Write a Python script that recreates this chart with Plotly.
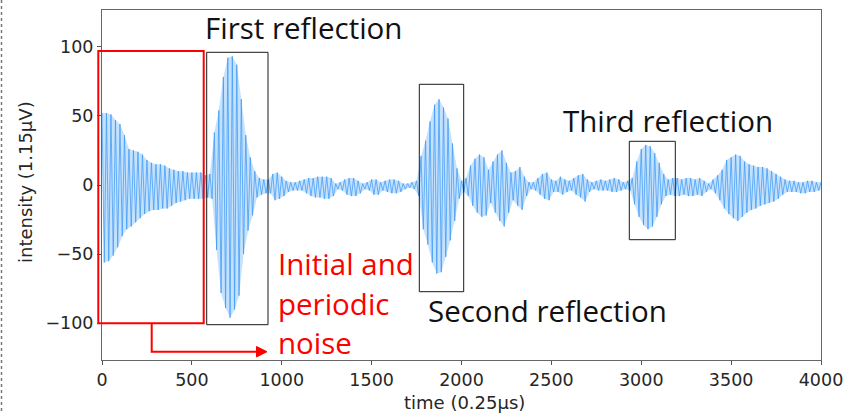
import plotly.graph_objects as go

# ---- data -----------------------------------------------------------------
# sample times (0.25 us units), one envelope reading every 25 samples
time = list(range(0, 4001, 25))

# positive peak envelope at each time
upper = [
    52, 52, 51, 47, 44, 36, 26, 25,
    24, 22, 18, 16, 15, 15, 14, 12,
    11, 10, 10, 9, 9, 9, 9, 7,
    8, 38, 54, 78, 92, 93, 87, 62,
    36, 20, 10, 5, 4, 4, 8, 9,
    6, 3, 2, 2, 3, 4, 5, 5,
    6, 6, 6, 5, 1, 2, 4, 5,
    5, 3, 1, 2, 4, 4, 2, 3,
    4, 4, 3, 1, 1, 2, 3, 21,
    32, 46, 58, 62, 56, 48, 30, 12,
    3, 5, 14, 19, 22, 20, 11, 17,
    22, 25, 16, 9, 10, 13, 6, 2,
    2, 5, 8, 9, 4, 3, 6, 4,
    3, 5, 7, 8, 4, 2, 3, 4,
    3, 4, 5, 4, 2, 3, 5, 17,
    26, 29, 28, 23, 16, 8, 4, 5,
    5, 4, 5, 5, 4, 5, 3, 1,
    4, 7, 11, 18, 20, 22, 21, 17,
    15, 14, 13, 13, 12, 10, 8, 6,
    4, 3, 3, 2, 2, 3, 3, 2,
    2,
]

# negative peak envelope (half a step later)
lower = [
    -56, -55, -51, -45, -37, -32, -30, -27,
    -24, -21, -19, -18, -18, -17, -17, -15,
    -13, -12, -11, -10, -10, -10, -10, -9,
    -10, -47, -78, -89, -96, -90, -80, -50,
    -33, -22, -9, -7, -6, -6, -11, -10,
    -8, -5, -4, -4, -4, -6, -8, -9,
    -9, -10, -10, -8, -3, -4, -7, -8,
    -8, -6, -3, -4, -7, -7, -4, -5,
    -6, -6, -5, -3, -2, -3, -8, -32,
    -43, -56, -64, -63, -52, -40, -26, -10,
    -5, -8, -15, -20, -23, -22, -13, -20,
    -26, -30, -20, -11, -15, -18, -8, -3,
    -4, -7, -10, -11, -5, -5, -7, -5,
    -4, -7, -9, -12, -5, -3, -4, -4,
    -4, -5, -5, -4, -3, -4, -14, -23,
    -29, -32, -30, -23, -14, -8, -7, -8,
    -8, -7, -8, -8, -7, -8, -5, -3,
    -6, -11, -17, -21, -24, -26, -23, -20,
    -18, -17, -15, -14, -13, -12, -10, -7,
    -5, -5, -5, -6, -6, -5, -5, -4,
    -3,
]

x_ticks = [0, 500, 1000, 1500, 2000, 2500, 3000, 3500, 4000]
y_ticks = [-100, -50, 0, 50, 100]
y_tick_labels = ["\u2212100", "\u221250", "0", "50", "100"]

# ---- build the oscillating trace from the peak readings -------------------
half = 12.5
xs, ys = [], []
for t, u, l in zip(time, upper, lower):
    xs += [t, t + half]
    ys += [u, l]

# envelope band (same readings)
band_x = time + [t + half for t in time][::-1]
band_y = upper + lower[::-1]

fig = go.Figure()
fig.add_trace(go.Scatter(
    x=band_x, y=band_y, mode="lines", fill="toself",
    fillcolor="rgba(125,188,250,0.45)", line=dict(width=0),
    hoverinfo="skip", showlegend=False,
))
fig.add_trace(go.Scatter(
    x=xs, y=ys, mode="lines",
    line=dict(color="rgba(60,152,245,0.72)", width=1),
    hoverinfo="skip", showlegend=False,
))

# ---- layout ---------------------------------------------------------------
W, H = 847, 414
L, R, T, B = 102, 26, 10, 54
pw, ph = W - L - R, H - T - B


def px(x):
    return (x - L) / pw


def py(y):
    return (H - B - y) / ph


tick_font = dict(family="DejaVu Sans", size=17.5, color="#262626")
title_font = dict(family="DejaVu Sans", size=18, color="#262626")

fig.update_layout(
    width=W, height=H, autosize=False,
    margin=dict(l=L, r=R, t=T, b=B, pad=0),
    paper_bgcolor="white", plot_bgcolor="white",
    xaxis=dict(
        range=[0, 4000], tickvals=x_ticks, ticks="outside", ticklen=4,
        tickcolor="#555", showline=True, linecolor="#666", linewidth=1,
        mirror=True, showgrid=False, zeroline=False, tickfont=tick_font,
        automargin=False,
    ),
    yaxis=dict(
        range=[-126.5, 126.5], tickvals=y_ticks, ticktext=y_tick_labels,
        ticks="outside", ticklen=4, tickcolor="#555", showline=True,
        linecolor="#666", linewidth=1, mirror=True, showgrid=False,
        zeroline=False, tickfont=tick_font, automargin=False,
    ),
)

shapes = []
# dashed slide border on the far left
shapes.append(dict(type="line", xref="paper", yref="paper",
                   x0=px(1.5), x1=px(1.5), y0=py(0), y1=py(414),
                   line=dict(color="#777", width=1.5, dash="dot")))
# red box (initial noise)
shapes.append(dict(type="rect", xref="paper", yref="paper",
                   x0=px(98.3), x1=px(203.7), y0=py(323.3), y1=py(51),
                   line=dict(color="#ff0000", width=2)))
# black boxes around reflections
for (a, b, c, d) in [(206.7, 268, 52.3, 324.7),
                     (419.3, 463.7, 84.3, 291.7),
                     (629.3, 675.3, 141.3, 239.7)]:
    shapes.append(dict(type="rect", xref="paper", yref="paper",
                       x0=px(a), x1=px(b), y0=py(d), y1=py(c),
                       line=dict(color="#1a1a1a", width=1)))
# red elbow arrow
shapes.append(dict(type="path", xref="paper", yref="paper",
                   path=f"M {px(151.7)} {py(323.3)} L {px(151.7)} {py(351.7)} L {px(258)} {py(351.7)}",
                   line=dict(color="#ff0000", width=2)))
shapes.append(dict(type="path", xref="paper", yref="paper",
                   path=f"M {px(256.5)} {py(346.5)} L {px(267)} {py(351.7)} L {px(256.5)} {py(356.9)} Z",
                   line=dict(color="#ff0000", width=1), fillcolor="#ff0000"))
fig.update_layout(shapes=shapes)

ann_font = dict(family="Open Sans", size=29.5, color="#111")
red_font = dict(family="Open Sans", size=29.5, color="#ff0000")
anns = [
    dict(text="First reflection", x=px(303), y=py(27), font=ann_font,
         xanchor="center", yanchor="middle"),
    dict(text="Second reflection", x=px(547), y=py(310), font=ann_font,
         xanchor="center", yanchor="middle"),
    dict(text="Third reflection", x=px(668), y=py(120), font=ann_font,
         xanchor="center", yanchor="middle"),
    dict(text="Initial and", x=px(276), y=py(263), font=red_font,
         xanchor="left", yanchor="middle"),
    dict(text="periodic", x=px(276), y=py(303), font=red_font,
         xanchor="left", yanchor="middle"),
    dict(text="noise", x=px(276), y=py(342), font=red_font,
         xanchor="left", yanchor="middle"),
    dict(text="time (0.25\u03bcs)", x=px(464), y=py(402), font=title_font,
         xanchor="center", yanchor="middle"),
    dict(text="intensity (1.15\u03bcV)", x=px(25), y=py(182), font=title_font,
         xanchor="center", yanchor="middle", textangle=-90),
]
for a in anns:
    a.update(xref="paper", yref="paper", showarrow=False)
fig.update_layout(annotations=anns)

# remove the page's default body margin so the figure sits at the window origin
fig.write_html("out.html",
               config={"displayModeBar": False},
               post_script="document.body.style.margin='0';")
